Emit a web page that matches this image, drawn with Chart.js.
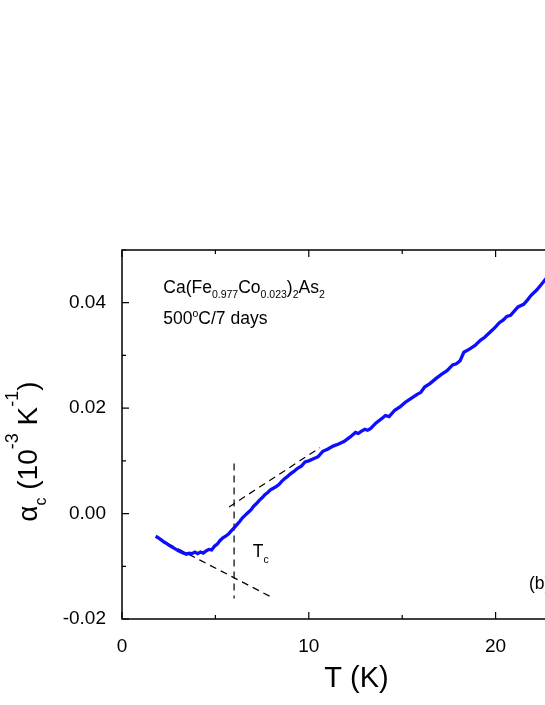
<!DOCTYPE html>
<html>
<head>
<meta charset="utf-8">
<script src="https://cdn.jsdelivr.net/npm/chart.js@4"></script>
<style>
  html, body { margin: 0; padding: 0; background: #fff; overflow: hidden; }
  #wrap { width: 545px; height: 705px; overflow: hidden; }
</style>
</head>
<body>
<div id="wrap"><canvas id="myChart" width="640" height="705"></canvas></div>
<script>
// temperature (K) and thermal expansion alpha_c (10^-3 K^-1)
var temps = [1.80, 1.95, 2.10, 2.25, 2.40, 2.55, 2.70, 2.85, 3.00, 3.15, 3.30, 3.45, 3.60, 3.75, 3.90,
  4.05, 4.20, 4.35, 4.50, 4.65, 4.80, 4.95, 5.10, 5.25, 5.40, 5.55, 5.70, 5.85, 6.00, 6.15, 6.30,
  6.45, 6.60, 6.75, 6.90, 7.05, 7.20, 7.35, 7.50, 7.65, 7.80, 7.95, 8.10, 8.25, 8.40, 8.55, 8.70,
  8.85, 9.00, 9.20, 9.40, 9.60, 9.80, 10.00, 10.25, 10.50, 10.75, 11.00, 11.30, 11.60, 11.90, 12.20,
  12.50, 12.65, 12.80, 13.00, 13.15, 13.30, 13.60, 13.90, 14.10, 14.30, 14.60, 14.90, 15.20, 15.50,
  15.80, 16.00, 16.20, 16.50, 16.80, 17.10, 17.40, 17.70, 17.90, 18.10, 18.30, 18.60, 18.90, 19.20,
  19.40, 19.70, 20.00, 20.20, 20.40, 20.60, 20.80, 21.00, 21.20, 21.50, 21.70, 21.90, 22.20, 22.50, 22.70];
var alphaC = [-0.0043, -0.0046, -0.0050, -0.0054, -0.0057, -0.0061, -0.0064, -0.0067, -0.0070, -0.0073,
  -0.0075, -0.0077, -0.0075, -0.0076, -0.0073, -0.0076, -0.0073, -0.0075, -0.0071, -0.0068, -0.0069,
  -0.0062, -0.0058, -0.0051, -0.0046, -0.0043, -0.0039, -0.0033, -0.0027, -0.0021, -0.0015, -0.0008,
  -0.0003, 0.0002, 0.0007, 0.0014, 0.0019, 0.0025, 0.0030, 0.0036, 0.0040, 0.0045, 0.0048, 0.0051,
  0.0055, 0.0061, 0.0066, 0.0070, 0.0075, 0.0080, 0.0086, 0.0090, 0.0098, 0.0100, 0.0104, 0.0108,
  0.0118, 0.0122, 0.0128, 0.0132, 0.0137, 0.0145, 0.0154, 0.0152, 0.0156, 0.0160, 0.0158, 0.0161,
  0.0172, 0.0180, 0.0186, 0.0184, 0.0196, 0.0203, 0.0212, 0.0219, 0.0226, 0.0230, 0.0240, 0.0247,
  0.0256, 0.0264, 0.0271, 0.0282, 0.0284, 0.0290, 0.0306, 0.0312, 0.0319, 0.0329, 0.0334, 0.0344,
  0.0354, 0.0362, 0.0367, 0.0374, 0.0376, 0.0384, 0.0392, 0.0397, 0.0405, 0.0414, 0.0424, 0.0437, 0.0446];

// dashed construction lines for Tc
var tcLine = [{x: 6.0, y: 0.0095}, {x: 6.0, y: -0.0161}];
var tangentHigh = [{x: 5.73, y: 0.00125}, {x: 10.6, y: 0.0125}];
var tangentLow = [{x: 1.86, y: -0.0046}, {x: 8.14, y: -0.0161}];

var xTicks = [0, 10, 20];
var xMinorTicks = [0, 5, 10, 15, 20, 25];
var yTicks = [-0.02, 0, 0.02, 0.04];
var yMinorTicks = [-0.02, -0.01, 0, 0.01, 0.02, 0.03, 0.04, 0.05];

var FONT = '"Liberation Sans", Arial, sans-serif';

function drawRuns(ctx, x, y, runs) {
  var cx = x;
  runs.forEach(function (r) {
    ctx.font = r[1] + 'px ' + FONT;
    ctx.fillText(r[0], cx, y + r[2]);
    cx += ctx.measureText(r[0]).width;
  });
}

var frameAndText = {
  id: 'frameAndText',
  afterDatasetsDraw: function (chart) {
    var ctx = chart.ctx, a = chart.chartArea;
    var xs = chart.scales.x, ys = chart.scales.y;
    ctx.save();
    ctx.strokeStyle = '#000';
    ctx.lineWidth = 1.5;
    ctx.strokeRect(a.left, a.top, a.right - a.left, a.bottom - a.top);

    // inward ticks on all four sides
    ctx.lineWidth = 1.2;
    ctx.beginPath();
    xMinorTicks.forEach(function (v) {
      var px = xs.getPixelForValue(v);
      var len = xTicks.indexOf(v) >= 0 ? 7 : 4;
      ctx.moveTo(px, a.bottom); ctx.lineTo(px, a.bottom - len);
      ctx.moveTo(px, a.top); ctx.lineTo(px, a.top + len);
    });
    yMinorTicks.forEach(function (v) {
      var py = ys.getPixelForValue(v);
      var len = yTicks.some(function (t) { return Math.abs(t - v) < 1e-9; }) ? 7 : 4;
      ctx.moveTo(a.left, py); ctx.lineTo(a.left + len, py);
      ctx.moveTo(a.right, py); ctx.lineTo(a.right - len, py);
    });
    ctx.stroke();

    ctx.fillStyle = '#000';
    ctx.textAlign = 'left';
    ctx.textBaseline = 'alphabetic';

    // sample annotation
    drawRuns(ctx, xs.getPixelForValue(2.21), ys.getPixelForValue(0.04182), [
      ['Ca(Fe', 17.5, 0], ['0.977', 10.5, 5], ['Co', 17.5, 0], ['0.023', 10.5, 5],
      [')', 17.5, 0], ['2', 10.5, 5], ['As', 17.5, 0], ['2', 10.5, 5]
    ]);
    drawRuns(ctx, xs.getPixelForValue(2.21), ys.getPixelForValue(0.03602), [
      ['500', 17.5, 0], ['o', 10.5, -7], ['C/7 days', 17.5, 0]
    ]);
    drawRuns(ctx, xs.getPixelForValue(7.0), ys.getPixelForValue(-0.00823), [
      ['T', 17.5, 0], ['c', 10.5, 6]
    ]);
    drawRuns(ctx, xs.getPixelForValue(21.79), ys.getPixelForValue(-0.01435), [
      ['(b)', 17.5, 0]
    ]);

    // x axis title
    ctx.textAlign = 'center';
    ctx.font = '29px ' + FONT;
    ctx.fillText('T (K)', (a.left + a.right) / 2 + 1, 687);

    // y axis title, rotated
    ctx.textAlign = 'left';
    ctx.translate(36.7, 521.7);
    ctx.rotate(-Math.PI / 2);
    drawRuns(ctx, 0, 0, [
      ['\u03b1', 28, 0], ['c', 16, 9], [' (10', 28, 0], ['-3', 18, -19],
      [' K', 28, 0], ['-1', 18, -19], [')', 28, 0]
    ]);
    ctx.restore();
  }
};

var ctx = document.getElementById('myChart').getContext('2d');

new Chart(ctx, {
  type: 'line',
  data: {
    datasets: [{
      data: temps.map(function (t, i) { return {x: t, y: alphaC[i]}; }),
      borderColor: '#0d0dff',
      borderWidth: 3.3,
      pointRadius: 0,
      tension: 0,
      fill: false
    }, {
      data: tcLine,
      borderColor: '#000',
      borderWidth: 1.2,
      borderDash: [7, 5],
      pointRadius: 0
    }, {
      data: tangentHigh,
      borderColor: '#000',
      borderWidth: 1.2,
      borderDash: [7, 5],
      pointRadius: 0
    }, {
      data: tangentLow,
      borderColor: '#000',
      borderWidth: 1.2,
      borderDash: [7, 5],
      pointRadius: 0
    }]
  },
  options: {
    responsive: false,
    animation: false,
    layout: { padding: { top: 250, right: 51, left: 0, bottom: 0 } },
    plugins: { legend: { display: false }, tooltip: { enabled: false } },
    scales: {
      x: {
        type: 'linear',
        min: 0,
        max: 25,
        grid: { display: false },
        border: { display: false },
        afterBuildTicks: function (scale) { scale.ticks = xTicks.map(function (v) { return {value: v}; }); },
        afterFit: function (scale) { scale.height = 86; },
        ticks: {
          color: '#000',
          padding: 8,
          font: { size: 19, family: FONT },
          maxRotation: 0
        }
      },
      y: {
        type: 'linear',
        min: -0.02,
        max: 0.05,
        grid: { display: false },
        border: { display: false },
        afterBuildTicks: function (scale) { scale.ticks = yTicks.map(function (v) { return {value: v}; }); },
        afterFit: function (scale) { scale.width = 122; },
        ticks: {
          color: '#000',
          padding: 8,
          font: { size: 19, family: FONT },
          callback: function (v) { return (Math.abs(v) < 1e-9 ? 0 : v).toFixed(2); }
        }
      }
    }
  },
  plugins: [frameAndText]
});
</script>
</body>
</html>
